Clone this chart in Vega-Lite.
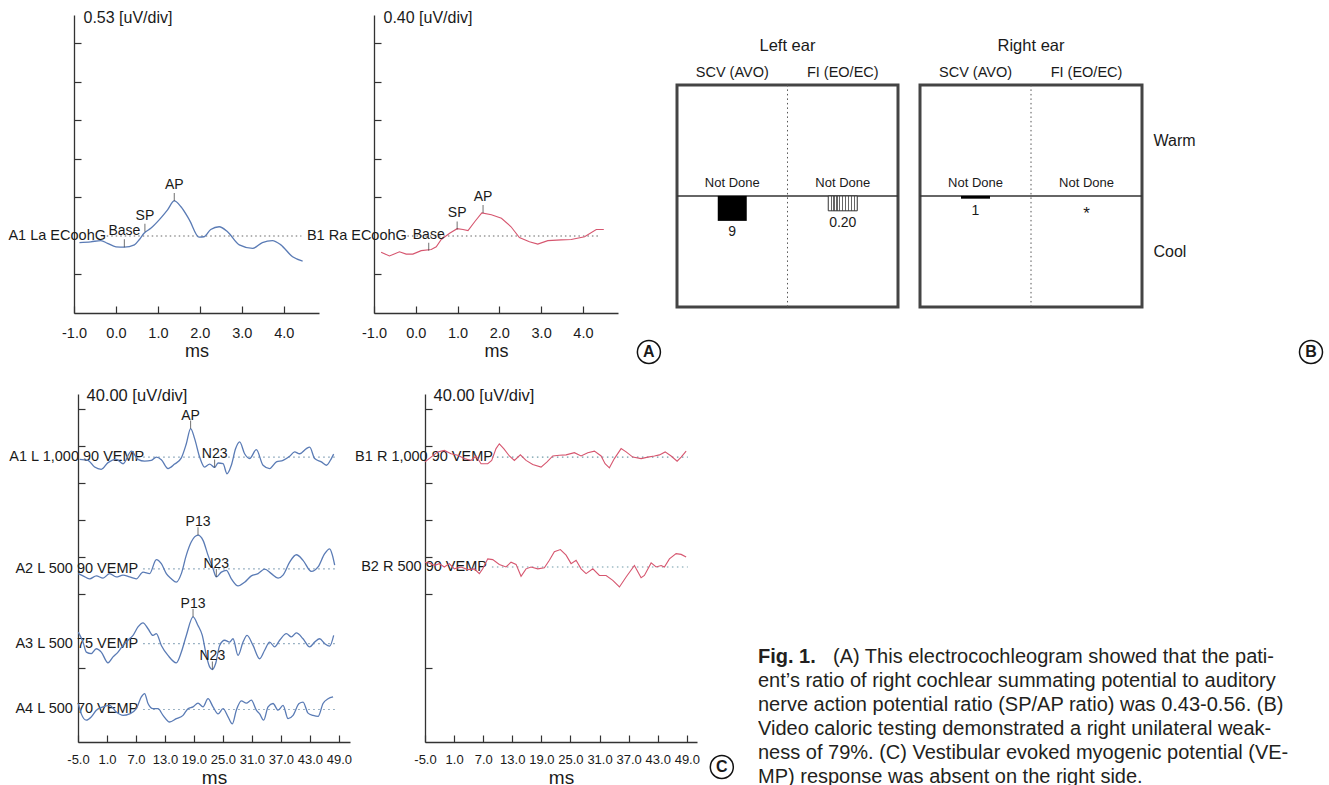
{
"$schema":"https://vega.github.io/schema/vega-lite/v6.json",
"background":"white",
"padding":{"left":8,"top":9,"right":0,"bottom":0},
"config":{"view":{"stroke":null},"font":"Liberation Sans","axis":{"grid":false,"domainColor":"#333","tickColor":"#333","domainWidth":1.3,"tickWidth":1.2,"labelColor":"#1a1a1a","titleColor":"#1a1a1a","titleFontWeight":"normal","labelFont":"Liberation Sans","titleFont":"Liberation Sans"},"text":{"color":"#1a1a1a","font":"Liberation Sans"}},
"datasets":{
"tags":[{"tag":"A"},{"tag":"B"},{"tag":"C"}],
"ecogInfo":[{"p":"L","name":"A1 La ECoohG","base":2},{"p":"R","name":"B1 Ra ECoohG","base":2}],
"ecogMarks":[{"p":"L","name":"Base","ms":0.2,"div":1.71},{"p":"L","name":"SP","ms":0.69,"div":2.11},{"p":"L","name":"AP","ms":1.39,"div":2.91},{"p":"R","name":"Base","ms":0.31,"div":1.62},{"p":"R","name":"SP","ms":0.99,"div":2.17},{"p":"R","name":"AP","ms":1.61,"div":2.6}],
"ecog":[
{"p":"L","ms":-0.87,"div":1.83},{"p":"L","ms":-0.6,"div":1.85},{"p":"L","ms":-0.36,"div":1.88},{"p":"L","ms":-0.2,"div":1.81},{"p":"L","ms":0.0,"div":1.72},{"p":"L","ms":0.2,"div":1.71},{"p":"L","ms":0.44,"div":1.77},{"p":"L","ms":0.56,"div":1.91},{"p":"L","ms":0.67,"div":2.07},{"p":"L","ms":0.83,"div":2.2},{"p":"L","ms":1.03,"div":2.42},{"p":"L","ms":1.23,"div":2.68},{"p":"L","ms":1.39,"div":2.91},{"p":"L","ms":1.55,"div":2.76},{"p":"L","ms":1.75,"div":2.42},{"p":"L","ms":1.98,"div":1.97},{"p":"L","ms":2.1,"div":1.98},{"p":"L","ms":2.26,"div":2.17},{"p":"L","ms":2.46,"div":2.24},{"p":"L","ms":2.66,"div":2.11},{"p":"L","ms":2.94,"div":1.77},{"p":"L","ms":3.26,"div":1.68},{"p":"L","ms":3.49,"div":1.83},{"p":"L","ms":3.73,"div":1.88},{"p":"L","ms":3.93,"div":1.77},{"p":"L","ms":4.21,"div":1.46},{"p":"L","ms":4.45,"div":1.35},
{"p":"R","ms":-0.83,"div":1.58},{"p":"R","ms":-0.63,"div":1.48},{"p":"R","ms":-0.39,"div":1.59},{"p":"R","ms":-0.23,"div":1.53},{"p":"R","ms":-0.07,"div":1.53},{"p":"R","ms":0.13,"div":1.62},{"p":"R","ms":0.37,"div":1.65},{"p":"R","ms":0.49,"div":1.72},{"p":"R","ms":0.61,"div":1.91},{"p":"R","ms":0.81,"div":2.07},{"p":"R","ms":0.99,"div":2.19},{"p":"R","ms":1.13,"div":2.17},{"p":"R","ms":1.25,"div":2.14},{"p":"R","ms":1.41,"div":2.37},{"p":"R","ms":1.58,"div":2.6},{"p":"R","ms":1.81,"div":2.55},{"p":"R","ms":2.05,"div":2.46},{"p":"R","ms":2.28,"div":2.24},{"p":"R","ms":2.48,"div":1.96},{"p":"R","ms":2.72,"div":1.85},{"p":"R","ms":2.92,"div":1.79},{"p":"R","ms":3.16,"div":1.88},{"p":"R","ms":3.48,"div":1.9},{"p":"R","ms":3.72,"div":1.91},{"p":"R","ms":4.04,"div":1.98},{"p":"R","ms":4.32,"div":2.17},{"p":"R","ms":4.5,"div":2.17}],
"vempInfo":[{"p":"L","name":"A1 L 1,000 90 VEMP","base":7.7},{"p":"L","name":"A2 L 500 90 VEMP","base":4.68},{"p":"L","name":"A3 L 500 75 VEMP","base":2.66},{"p":"L","name":"A4 L 500 70 VEMP","base":0.88},{"p":"R","name":"B1 R 1,000 90 VEMP","base":7.7},{"p":"R","name":"B2 R 500 90 VEMP","base":4.73}],
"vempMarks":[{"p":"L","name":"AP","ms":18.31,"div":8.47},{"p":"L","name":"N23","ms":23.28,"div":7.42},{"p":"L","name":"P13","ms":19.84,"div":5.59},{"p":"L","name":"N23","ms":23.63,"div":4.46},{"p":"L","name":"P13","ms":18.81,"div":3.38},{"p":"L","name":"N23","ms":22.81,"div":1.96}],
"vemp":[
{"p":"L","tr":"A1","ms":-4.67,"div":7.64},{"p":"L","tr":"A1","ms":-2.93,"div":7.61},{"p":"L","tr":"A1","ms":-1.56,"div":7.43},{"p":"L","tr":"A1","ms":-0.18,"div":7.37},{"p":"L","tr":"A1","ms":1.21,"div":7.55},{"p":"L","tr":"A1","ms":2.93,"div":7.64},{"p":"L","tr":"A1","ms":4.32,"div":7.52},{"p":"L","tr":"A1","ms":6.04,"div":7.86},{"p":"L","tr":"A1","ms":7.42,"div":7.64},{"p":"L","tr":"A1","ms":8.79,"div":7.59},{"p":"L","tr":"A1","ms":10.18,"div":7.61},{"p":"L","tr":"A1","ms":11.21,"div":7.7},{"p":"L","tr":"A1","ms":12.25,"div":7.63},{"p":"L","tr":"A1","ms":13.63,"div":7.39},{"p":"L","tr":"A1","ms":15.0,"div":7.51},{"p":"L","tr":"A1","ms":16.39,"div":7.68},{"p":"L","tr":"A1","ms":17.42,"div":8.06},{"p":"L","tr":"A1","ms":18.31,"div":8.47},{"p":"L","tr":"A1","ms":19.14,"div":8.2},{"p":"L","tr":"A1","ms":20.18,"div":7.7},{"p":"L","tr":"A1","ms":21.21,"div":7.43},{"p":"L","tr":"A1","ms":22.25,"div":7.51},{"p":"L","tr":"A1","ms":23.28,"div":7.42},{"p":"L","tr":"A1","ms":23.99,"div":7.54},{"p":"L","tr":"A1","ms":25.02,"div":7.52},{"p":"L","tr":"A1","ms":25.85,"div":7.25},{"p":"L","tr":"A1","ms":26.74,"div":7.48},{"p":"L","tr":"A1","ms":27.63,"div":7.93},{"p":"L","tr":"A1","ms":28.46,"div":8.11},{"p":"L","tr":"A1","ms":29.49,"div":7.79},{"p":"L","tr":"A1","ms":30.53,"div":7.66},{"p":"L","tr":"A1","ms":31.91,"div":7.9},{"p":"L","tr":"A1","ms":33.3,"div":7.48},{"p":"L","tr":"A1","ms":34.67,"div":7.39},{"p":"L","tr":"A1","ms":36.06,"div":7.57},{"p":"L","tr":"A1","ms":37.44,"div":7.61},{"p":"L","tr":"A1","ms":38.81,"div":7.72},{"p":"L","tr":"A1","ms":39.84,"div":7.84},{"p":"L","tr":"A1","ms":40.88,"div":7.79},{"p":"L","tr":"A1","ms":42.27,"div":7.93},{"p":"L","tr":"A1","ms":42.95,"div":7.97},{"p":"L","tr":"A1","ms":43.99,"div":7.66},{"p":"L","tr":"A1","ms":45.37,"div":7.57},{"p":"L","tr":"A1","ms":46.41,"div":7.48},{"p":"L","tr":"A1","ms":47.44,"div":7.66},{"p":"L","tr":"A1","ms":47.92,"div":7.78},
{"p":"L","tr":"A2","ms":-4.94,"div":4.55},{"p":"L","tr":"A2","ms":-3.96,"div":4.49},{"p":"L","tr":"A2","ms":-2.6,"div":4.41},{"p":"L","tr":"A2","ms":-1.21,"div":4.49},{"p":"L","tr":"A2","ms":0.18,"div":4.43},{"p":"L","tr":"A2","ms":1.54,"div":4.55},{"p":"L","tr":"A2","ms":2.93,"div":4.46},{"p":"L","tr":"A2","ms":4.32,"div":4.51},{"p":"L","tr":"A2","ms":5.68,"div":4.46},{"p":"L","tr":"A2","ms":7.07,"div":4.41},{"p":"L","tr":"A2","ms":8.46,"div":4.59},{"p":"L","tr":"A2","ms":9.82,"div":4.55},{"p":"L","tr":"A2","ms":11.21,"div":4.93},{"p":"L","tr":"A2","ms":12.25,"div":4.82},{"p":"L","tr":"A2","ms":13.28,"div":4.55},{"p":"L","tr":"A2","ms":14.32,"div":4.41},{"p":"L","tr":"A2","ms":15.35,"div":4.32},{"p":"L","tr":"A2","ms":16.39,"div":4.55},{"p":"L","tr":"A2","ms":17.42,"div":5.05},{"p":"L","tr":"A2","ms":18.46,"div":5.41},{"p":"L","tr":"A2","ms":19.84,"div":5.59},{"p":"L","tr":"A2","ms":20.88,"div":5.45},{"p":"L","tr":"A2","ms":21.91,"div":5.05},{"p":"L","tr":"A2","ms":22.95,"div":4.68},{"p":"L","tr":"A2","ms":23.63,"div":4.46},{"p":"L","tr":"A2","ms":24.67,"div":4.59},{"p":"L","tr":"A2","ms":25.7,"div":4.64},{"p":"L","tr":"A2","ms":26.74,"div":4.41},{"p":"L","tr":"A2","ms":28.13,"div":4.22},{"p":"L","tr":"A2","ms":29.49,"div":4.32},{"p":"L","tr":"A2","ms":30.88,"div":4.49},{"p":"L","tr":"A2","ms":32.27,"div":4.55},{"p":"L","tr":"A2","ms":33.63,"div":4.67},{"p":"L","tr":"A2","ms":35.02,"div":4.55},{"p":"L","tr":"A2","ms":36.41,"div":4.43},{"p":"L","tr":"A2","ms":37.44,"div":4.51},{"p":"L","tr":"A2","ms":38.81,"div":4.86},{"p":"L","tr":"A2","ms":40.2,"div":5.06},{"p":"L","tr":"A2","ms":41.58,"div":4.91},{"p":"L","tr":"A2","ms":43.3,"div":4.61},{"p":"L","tr":"A2","ms":44.69,"div":4.73},{"p":"L","tr":"A2","ms":46.06,"div":5.09},{"p":"L","tr":"A2","ms":47.09,"div":5.22},{"p":"L","tr":"A2","ms":47.65,"div":5.05},{"p":"L","tr":"A2","ms":48.13,"div":4.78},
{"p":"L","tr":"A3","ms":-4.94,"div":2.97},{"p":"L","tr":"A3","ms":-3.96,"div":2.7},{"p":"L","tr":"A3","ms":-3.28,"div":2.43},{"p":"L","tr":"A3","ms":-2.25,"div":2.39},{"p":"L","tr":"A3","ms":-1.21,"div":2.52},{"p":"L","tr":"A3","ms":-0.18,"div":2.43},{"p":"L","tr":"A3","ms":1.21,"div":2.14},{"p":"L","tr":"A3","ms":2.25,"div":2.3},{"p":"L","tr":"A3","ms":3.28,"div":2.43},{"p":"L","tr":"A3","ms":4.32,"div":2.61},{"p":"L","tr":"A3","ms":5.35,"div":2.75},{"p":"L","tr":"A3","ms":6.39,"div":2.88},{"p":"L","tr":"A3","ms":7.42,"div":3.11},{"p":"L","tr":"A3","ms":8.46,"div":3.22},{"p":"L","tr":"A3","ms":9.49,"div":3.06},{"p":"L","tr":"A3","ms":10.53,"div":2.88},{"p":"L","tr":"A3","ms":11.21,"div":2.93},{"p":"L","tr":"A3","ms":12.25,"div":2.61},{"p":"L","tr":"A3","ms":13.63,"div":2.34},{"p":"L","tr":"A3","ms":15.35,"div":2.14},{"p":"L","tr":"A3","ms":16.39,"div":2.43},{"p":"L","tr":"A3","ms":17.42,"div":2.88},{"p":"L","tr":"A3","ms":18.81,"div":3.38},{"p":"L","tr":"A3","ms":19.84,"div":3.15},{"p":"L","tr":"A3","ms":20.73,"div":2.88},{"p":"L","tr":"A3","ms":21.56,"div":2.34},{"p":"L","tr":"A3","ms":22.25,"div":2.03},{"p":"L","tr":"A3","ms":22.81,"div":1.96},{"p":"L","tr":"A3","ms":23.49,"div":2.12},{"p":"L","tr":"A3","ms":24.32,"div":2.61},{"p":"L","tr":"A3","ms":25.35,"div":2.75},{"p":"L","tr":"A3","ms":26.39,"div":2.7},{"p":"L","tr":"A3","ms":27.09,"div":2.79},{"p":"L","tr":"A3","ms":28.13,"div":2.34},{"p":"L","tr":"A3","ms":29.16,"div":2.7},{"p":"L","tr":"A3","ms":29.99,"div":2.88},{"p":"L","tr":"A3","ms":31.23,"div":2.61},{"p":"L","tr":"A3","ms":32.6,"div":2.25},{"p":"L","tr":"A3","ms":33.63,"div":2.48},{"p":"L","tr":"A3","ms":34.67,"div":2.7},{"p":"L","tr":"A3","ms":35.7,"div":2.57},{"p":"L","tr":"A3","ms":36.74,"div":2.75},{"p":"L","tr":"A3","ms":38.13,"div":2.93},{"p":"L","tr":"A3","ms":39.16,"div":2.84},{"p":"L","tr":"A3","ms":40.2,"div":2.95},{"p":"L","tr":"A3","ms":41.58,"div":2.79},{"p":"L","tr":"A3","ms":42.95,"div":2.57},{"p":"L","tr":"A3","ms":43.99,"div":2.7},{"p":"L","tr":"A3","ms":45.02,"div":2.79},{"p":"L","tr":"A3","ms":46.06,"div":2.66},{"p":"L","tr":"A3","ms":47.09,"div":2.59},{"p":"L","tr":"A3","ms":47.92,"div":2.88},
{"p":"L","tr":"A4","ms":-4.94,"div":1.04},{"p":"L","tr":"A4","ms":-4.32,"div":0.76},{"p":"L","tr":"A4","ms":-3.28,"div":0.59},{"p":"L","tr":"A4","ms":-2.25,"div":0.68},{"p":"L","tr":"A4","ms":-1.21,"div":0.86},{"p":"L","tr":"A4","ms":0.18,"div":0.95},{"p":"L","tr":"A4","ms":1.54,"div":0.99},{"p":"L","tr":"A4","ms":2.93,"div":0.81},{"p":"L","tr":"A4","ms":4.32,"div":0.72},{"p":"L","tr":"A4","ms":5.68,"div":0.76},{"p":"L","tr":"A4","ms":7.07,"div":0.9},{"p":"L","tr":"A4","ms":8.11,"div":1.22},{"p":"L","tr":"A4","ms":8.79,"div":1.31},{"p":"L","tr":"A4","ms":9.49,"div":1.04},{"p":"L","tr":"A4","ms":10.53,"div":0.9},{"p":"L","tr":"A4","ms":11.56,"div":0.9},{"p":"L","tr":"A4","ms":12.6,"div":0.72},{"p":"L","tr":"A4","ms":13.96,"div":0.54},{"p":"L","tr":"A4","ms":15.35,"div":0.63},{"p":"L","tr":"A4","ms":16.74,"div":0.72},{"p":"L","tr":"A4","ms":17.77,"div":0.9},{"p":"L","tr":"A4","ms":18.81,"div":0.95},{"p":"L","tr":"A4","ms":19.84,"div":1.05},{"p":"L","tr":"A4","ms":20.88,"div":0.95},{"p":"L","tr":"A4","ms":21.91,"div":1.17},{"p":"L","tr":"A4","ms":22.95,"div":0.95},{"p":"L","tr":"A4","ms":23.99,"div":0.76},{"p":"L","tr":"A4","ms":25.02,"div":0.9},{"p":"L","tr":"A4","ms":26.06,"div":0.68},{"p":"L","tr":"A4","ms":26.95,"div":0.49},{"p":"L","tr":"A4","ms":27.77,"div":0.86},{"p":"L","tr":"A4","ms":28.81,"div":1.11},{"p":"L","tr":"A4","ms":29.84,"div":1.05},{"p":"L","tr":"A4","ms":30.88,"div":1.13},{"p":"L","tr":"A4","ms":31.91,"div":0.86},{"p":"L","tr":"A4","ms":32.6,"div":0.76},{"p":"L","tr":"A4","ms":33.43,"div":0.59},{"p":"L","tr":"A4","ms":34.34,"div":0.95},{"p":"L","tr":"A4","ms":35.37,"div":1.04},{"p":"L","tr":"A4","ms":36.41,"div":0.86},{"p":"L","tr":"A4","ms":37.44,"div":0.99},{"p":"L","tr":"A4","ms":38.48,"div":0.63},{"p":"L","tr":"A4","ms":39.51,"div":0.72},{"p":"L","tr":"A4","ms":40.76,"div":1.04},{"p":"L","tr":"A4","ms":41.58,"div":1.08},{"p":"L","tr":"A4","ms":42.62,"div":0.78},{"p":"L","tr":"A4","ms":43.65,"div":0.72},{"p":"L","tr":"A4","ms":44.69,"div":0.69},{"p":"L","tr":"A4","ms":45.72,"div":1.04},{"p":"L","tr":"A4","ms":46.76,"div":1.17},{"p":"L","tr":"A4","ms":47.8,"div":1.22},
{"p":"R","tr":"B1","ms":-5.0,"div":7.57},{"p":"R","tr":"B1","ms":-3.76,"div":7.7},{"p":"R","tr":"B1","ms":-2.38,"div":7.84},{"p":"R","tr":"B1","ms":-1.02,"div":7.88},{"p":"R","tr":"B1","ms":0.37,"div":7.79},{"p":"R","tr":"B1","ms":1.75,"div":7.75},{"p":"R","tr":"B1","ms":3.11,"div":7.66},{"p":"R","tr":"B1","ms":4.49,"div":7.61},{"p":"R","tr":"B1","ms":5.52,"div":7.73},{"p":"R","tr":"B1","ms":6.56,"div":7.52},{"p":"R","tr":"B1","ms":7.94,"div":7.52},{"p":"R","tr":"B1","ms":8.76,"div":7.61},{"p":"R","tr":"B1","ms":9.65,"div":7.93},{"p":"R","tr":"B1","ms":10.33,"div":8.06},{"p":"R","tr":"B1","ms":11.24,"div":7.93},{"p":"R","tr":"B1","ms":12.4,"div":7.73},{"p":"R","tr":"B1","ms":13.43,"div":7.61},{"p":"R","tr":"B1","ms":14.67,"div":7.76},{"p":"R","tr":"B1","ms":15.84,"div":7.61},{"p":"R","tr":"B1","ms":17.22,"div":7.5},{"p":"R","tr":"B1","ms":18.94,"div":7.43},{"p":"R","tr":"B1","ms":20.18,"div":7.57},{"p":"R","tr":"B1","ms":21.35,"div":7.73},{"p":"R","tr":"B1","ms":22.71,"div":7.75},{"p":"R","tr":"B1","ms":24.1,"div":7.76},{"p":"R","tr":"B1","ms":25.81,"div":7.82},{"p":"R","tr":"B1","ms":27.19,"div":7.73},{"p":"R","tr":"B1","ms":28.57,"div":7.82},{"p":"R","tr":"B1","ms":29.94,"div":7.86},{"p":"R","tr":"B1","ms":31.32,"div":7.73},{"p":"R","tr":"B1","ms":32.14,"div":7.52},{"p":"R","tr":"B1","ms":33.03,"div":7.41},{"p":"R","tr":"B1","ms":34.06,"div":7.66},{"p":"R","tr":"B1","ms":35.45,"div":7.93},{"p":"R","tr":"B1","ms":36.48,"div":7.84},{"p":"R","tr":"B1","ms":37.86,"div":7.7},{"p":"R","tr":"B1","ms":39.57,"div":7.66},{"p":"R","tr":"B1","ms":40.96,"div":7.7},{"p":"R","tr":"B1","ms":42.32,"div":7.73},{"p":"R","tr":"B1","ms":43.35,"div":7.76},{"p":"R","tr":"B1","ms":44.53,"div":7.84},{"p":"R","tr":"B1","ms":45.76,"div":7.73},{"p":"R","tr":"B1","ms":47.0,"div":7.59},{"p":"R","tr":"B1","ms":47.83,"div":7.7},{"p":"R","tr":"B1","ms":48.86,"div":7.86},
{"p":"R","tr":"B2","ms":-5.0,"div":4.86},{"p":"R","tr":"B2","ms":-4.11,"div":4.84},{"p":"R","tr":"B2","ms":-3.08,"div":4.77},{"p":"R","tr":"B2","ms":-2.05,"div":4.82},{"p":"R","tr":"B2","ms":-1.02,"div":4.73},{"p":"R","tr":"B2","ms":0.01,"div":4.82},{"p":"R","tr":"B2","ms":1.05,"div":4.68},{"p":"R","tr":"B2","ms":2.43,"div":4.73},{"p":"R","tr":"B2","ms":3.81,"div":4.66},{"p":"R","tr":"B2","ms":5.17,"div":4.68},{"p":"R","tr":"B2","ms":6.21,"div":4.55},{"p":"R","tr":"B2","ms":6.91,"div":4.68},{"p":"R","tr":"B2","ms":7.94,"div":4.95},{"p":"R","tr":"B2","ms":8.97,"div":4.93},{"p":"R","tr":"B2","ms":10.33,"div":4.8},{"p":"R","tr":"B2","ms":11.71,"div":4.73},{"p":"R","tr":"B2","ms":12.75,"div":4.86},{"p":"R","tr":"B2","ms":13.78,"div":4.8},{"p":"R","tr":"B2","ms":14.81,"div":4.48},{"p":"R","tr":"B2","ms":15.84,"div":4.68},{"p":"R","tr":"B2","ms":16.87,"div":4.73},{"p":"R","tr":"B2","ms":18.26,"div":4.68},{"p":"R","tr":"B2","ms":19.62,"div":4.71},{"p":"R","tr":"B2","ms":20.65,"div":4.91},{"p":"R","tr":"B2","ms":21.68,"div":5.14},{"p":"R","tr":"B2","ms":22.92,"div":5.2},{"p":"R","tr":"B2","ms":24.1,"div":5.05},{"p":"R","tr":"B2","ms":25.13,"div":4.82},{"p":"R","tr":"B2","ms":26.16,"div":4.91},{"p":"R","tr":"B2","ms":27.19,"div":4.68},{"p":"R","tr":"B2","ms":28.22,"div":4.55},{"p":"R","tr":"B2","ms":29.61,"div":4.68},{"p":"R","tr":"B2","ms":30.97,"div":4.5},{"p":"R","tr":"B2","ms":32.35,"div":4.5},{"p":"R","tr":"B2","ms":33.73,"div":4.37},{"p":"R","tr":"B2","ms":35.1,"div":4.19},{"p":"R","tr":"B2","ms":36.48,"div":4.46},{"p":"R","tr":"B2","ms":38.19,"div":4.77},{"p":"R","tr":"B2","ms":39.57,"div":4.44},{"p":"R","tr":"B2","ms":40.25,"div":4.5},{"p":"R","tr":"B2","ms":41.64,"div":4.84},{"p":"R","tr":"B2","ms":42.67,"div":4.73},{"p":"R","tr":"B2","ms":43.7,"div":4.77},{"p":"R","tr":"B2","ms":44.38,"div":4.73},{"p":"R","tr":"B2","ms":45.41,"div":4.95},{"p":"R","tr":"B2","ms":46.79,"div":5.09},{"p":"R","tr":"B2","ms":47.83,"div":5.07},{"p":"R","tr":"B2","ms":48.86,"div":5.0}],
"caloric":[{"ear":"Left ear","test":"SCV (AVO)","warm":"Not Done","cool":9,"flag":null},{"ear":"Left ear","test":"FI (EO/EC)","warm":"Not Done","cool":0.2,"flag":null},{"ear":"Right ear","test":"SCV (AVO)","warm":"Not Done","cool":1,"flag":null},{"ear":"Right ear","test":"FI (EO/EC)","warm":"Not Done","cool":null,"flag":"*"}],
"caption":[{"line":1,"part":"lead","text":"Fig. 1."},{"line":1,"part":"body","text":"(A) This electrocochleogram showed that the pati-"},{"line":2,"part":"body","text":"ent’s ratio of right cochlear summating potential to auditory"},{"line":3,"part":"body","text":"nerve action potential ratio (SP/AP ratio) was 0.43-0.56. (B)"},{"line":4,"part":"body","text":"Video caloric testing demonstrated a right unilateral weak-"},{"line":5,"part":"body","text":"ness of 79%. (C) Vestibular evoked myogenic potential (VE-"},{"line":6,"part":"body","text":"MP) response was absent on the right side."}],
"blank":[{"k":0}]
},
"bounds":"full",
"spacing":20,
"vconcat":[
{"bounds":"flush","spacing":0,"hconcat":[
{"width":245,"height":298,"layer":[
 {"data":{"name":"ecogInfo"},"transform":[{"filter":"datum.p === 'L'"}],"mark":{"type":"rule","color":"#666","strokeDash":[1.5,3],"strokeWidth":1.1},"encoding":{"x":{"datum":-0.22,"type":"quantitative","scale":{"domain":[-1,4.84],"nice":false,"zero":false},"axis":{"values":[-1,0,1,2,3,4],"tickCount":20,"labelExpr":"datum.value < 0 ? '-' + format(-datum.value, '.1f') : format(datum.value, '.1f')","tickSize":-7,"labelPadding":20,"labelFontSize":14.5,"labelFlush":false,"labelOverlap":false,"title":"ms","titleFontSize":18,"titlePadding":3}},"x2":{"datum":4.42},"y":{"field":"base","type":"quantitative","scale":{"domain":[0,7.74],"nice":false,"zero":false},"axis":{"values":[1,3,4,5,6,7],"tickCount":20,"labels":false,"tickSize":-7,"title":"0.53 [uV/div]","titleAngle":0,"titleAlign":"left","titleBaseline":"middle","titleX":9,"titleY":2,"titleFontSize":16}}}},
 {"data":{"name":"ecogInfo"},"transform":[{"filter":"datum.p === 'L'"}],"mark":{"type":"text","fontSize":14.5,"baseline":"middle"},"encoding":{"x":{"datum":-1.4,"type":"quantitative"},"y":{"field":"base","type":"quantitative"},"text":{"field":"name","type":"nominal"}}},
 {"data":{"name":"ecog"},"transform":[{"filter":"datum.p === 'L'"}],"mark":{"type":"line","color":"#5a7bb5","strokeWidth":1.3,"interpolate":"monotone"},"encoding":{"x":{"field":"ms","type":"quantitative"},"y":{"field":"div","type":"quantitative"}}},
 {"data":{"name":"ecogMarks"},"transform":[{"filter":"datum.p === 'L'"}],"mark":{"type":"tick","orient":"vertical","size":8,"thickness":1,"yOffset":-4,"color":"#333"},"encoding":{"x":{"field":"ms","type":"quantitative"},"y":{"field":"div","type":"quantitative"}}},
 {"data":{"name":"ecogMarks"},"transform":[{"filter":"datum.p === 'L'"}],"mark":{"type":"text","fontSize":14,"dy":-16,"baseline":"middle"},"encoding":{"x":{"field":"ms","type":"quantitative"},"y":{"field":"div","type":"quantitative"},"text":{"field":"name","type":"nominal"}}}
]},
{"width":55,"height":298,"data":{"name":"blank"},"mark":{"type":"point","opacity":0},"encoding":{}},
{"width":244,"height":298,"layer":[
 {"data":{"name":"ecogInfo"},"transform":[{"filter":"datum.p === 'R'"}],"mark":{"type":"rule","color":"#666","strokeDash":[1.5,3],"strokeWidth":1.1},"encoding":{"x":{"datum":-0.2,"type":"quantitative","scale":{"domain":[-1,4.84],"nice":false,"zero":false},"axis":{"values":[-1,0,1,2,3,4],"tickCount":20,"labelExpr":"datum.value < 0 ? '-' + format(-datum.value, '.1f') : format(datum.value, '.1f')","tickSize":-7,"labelPadding":20,"labelFontSize":14.5,"labelFlush":false,"labelOverlap":false,"title":"ms","titleFontSize":18,"titlePadding":3}},"x2":{"datum":4.39},"y":{"field":"base","type":"quantitative","scale":{"domain":[0,7.74],"nice":false,"zero":false},"axis":{"values":[1,3,4,5,6,7],"tickCount":20,"labels":false,"tickSize":-7,"title":"0.40 [uV/div]","titleAngle":0,"titleAlign":"left","titleBaseline":"middle","titleX":9,"titleY":2,"titleFontSize":16}}}},
 {"data":{"name":"ecogInfo"},"transform":[{"filter":"datum.p === 'R'"}],"mark":{"type":"text","fontSize":14.5,"baseline":"middle"},"encoding":{"x":{"datum":-1.41,"type":"quantitative"},"y":{"field":"base","type":"quantitative"},"text":{"field":"name","type":"nominal"}}},
 {"data":{"name":"ecog"},"transform":[{"filter":"datum.p === 'R'"}],"mark":{"type":"line","color":"#d6566f","strokeWidth":1.1},"encoding":{"x":{"field":"ms","type":"quantitative"},"y":{"field":"div","type":"quantitative"}}},
 {"data":{"name":"ecogMarks"},"transform":[{"filter":"datum.p === 'R'"}],"mark":{"type":"tick","orient":"vertical","size":8,"thickness":1,"yOffset":-4,"color":"#333"},"encoding":{"x":{"field":"ms","type":"quantitative"},"y":{"field":"div","type":"quantitative"}}},
 {"data":{"name":"ecogMarks"},"transform":[{"filter":"datum.p === 'R'"}],"mark":{"type":"text","fontSize":14,"dy":-16,"baseline":"middle"},"encoding":{"x":{"field":"ms","type":"quantitative"},"y":{"field":"div","type":"quantitative"},"text":{"field":"name","type":"nominal"}}},
 {"data":{"name":"tags"},"transform":[{"filter":"datum.tag === 'A'"}],"mark":{"type":"point","shape":"circle","size":530,"filled":true,"fill":"#fff","stroke":"#111","strokeWidth":1.5,"opacity":1,"xOffset":66,"yOffset":39},"encoding":{"x":{"datum":4,"type":"quantitative"},"y":{"datum":0,"type":"quantitative"}}},
 {"data":{"name":"tags"},"transform":[{"filter":"datum.tag === 'A'"}],"mark":{"type":"text","fontSize":16,"fontWeight":"bold","baseline":"middle","xOffset":66,"yOffset":39},"encoding":{"x":{"datum":4,"type":"quantitative"},"y":{"datum":0,"type":"quantitative"},"text":{"field":"tag","type":"nominal"}}}
]},
{"width":59,"height":298,"data":{"name":"blank"},"mark":{"type":"point","opacity":0},"encoding":{}},
{"width":221,"height":298,"data":{"name":"caloric"},"transform":[{"filter":"datum.ear === 'Left ear'"}],"resolve":{"scale":{"y":"independent"}},"layer":[
  {"mark":{"type":"rect","filled":false,"stroke":"#444","strokeWidth":3},"transform":[{"filter":"datum.test === 'SCV (AVO)'"}],"encoding":{"y":{"datum":-40,"type":"quantitative","scale":{"domain":[-65.2,42.2],"reverse":true,"nice":false,"zero":false},"axis":null},"y2":{"datum":40}}},
  {"mark":{"type":"rule","color":"#333","strokeWidth":1.5},"transform":[{"filter":"datum.test === 'SCV (AVO)'"}],"encoding":{"y":{"datum":0,"type":"quantitative","scale":{"domain":[-65.2,42.2],"reverse":true,"nice":false,"zero":false},"axis":null}}},
  {"mark":{"type":"rule","color":"#555","strokeDash":[1.5,3],"strokeWidth":1,"xOffset":-55.25},"transform":[{"filter":"datum.test === 'FI (EO/EC)'"}],"encoding":{"x":{"field":"test","type":"nominal","scale":{"type":"band","domain":["SCV (AVO)","FI (EO/EC)"],"paddingInner":0,"paddingOuter":0},"axis":null},"y":{"datum":-40,"type":"quantitative","scale":{"domain":[-65.2,42.2],"reverse":true,"nice":false,"zero":false},"axis":null},"y2":{"datum":40}}},
  {"mark":{"type":"text","fontSize":16.5,"dy":-39,"baseline":"middle","xOffset":-55.25},"transform":[{"filter":"datum.test === 'FI (EO/EC)'"}],"encoding":{"x":{"field":"test","type":"nominal"},"y":{"datum":-40,"type":"quantitative","scale":{"domain":[-65.2,42.2],"reverse":true,"nice":false,"zero":false},"axis":null},"text":{"field":"ear","type":"nominal"}}},
  {"mark":{"type":"text","fontSize":14.5,"dy":-12.3,"baseline":"middle"},"encoding":{"x":{"field":"test","type":"nominal"},"y":{"datum":-40,"type":"quantitative","scale":{"domain":[-65.2,42.2],"reverse":true,"nice":false,"zero":false},"axis":null},"text":{"field":"test","type":"nominal"}}},
  {"mark":{"type":"text","fontSize":13,"dy":-13.3,"baseline":"middle"},"encoding":{"x":{"field":"test","type":"nominal"},"y":{"datum":0,"type":"quantitative","scale":{"domain":[-65.2,42.2],"reverse":true,"nice":false,"zero":false},"axis":null},"text":{"field":"warm","type":"nominal"}}},
  {"transform":[{"filter":"datum.test === 'SCV (AVO)' && isValid(datum.cool)"}],"mark":{"type":"bar","width":29,"color":"#000"},"encoding":{"x":{"field":"test","type":"nominal"},"y":{"field":"cool","type":"quantitative","scale":{"domain":[-65.2,42.2],"reverse":true,"nice":false,"zero":false},"axis":null},"y2":{"datum":0}}},
  {"transform":[{"filter":"datum.test === 'SCV (AVO)' && isValid(datum.cool)"}],"mark":{"type":"text","fontSize":14,"dy":11,"baseline":"middle"},"encoding":{"x":{"field":"test","type":"nominal"},"y":{"field":"cool","type":"quantitative","scale":{"domain":[-65.2,42.2],"reverse":true,"nice":false,"zero":false},"axis":null},"text":{"field":"cool","type":"quantitative","format":"d"}}},
  {"transform":[{"filter":"datum.test === 'FI (EO/EC)' && isValid(datum.cool)"}],"mark":{"type":"bar","width":29,"fill":{"gradient":"linear","x1":0,"y1":0,"x2":1,"y2":0,"stops":[{"offset":0,"color":"#fff"},{"offset":0.08,"color":"#fff"},{"offset":0.08,"color":"#666"},{"offset":0.12,"color":"#666"},{"offset":0.12,"color":"#fff"},{"offset":0.18,"color":"#fff"},{"offset":0.18,"color":"#666"},{"offset":0.22,"color":"#666"},{"offset":0.22,"color":"#fff"},{"offset":0.28,"color":"#fff"},{"offset":0.28,"color":"#666"},{"offset":0.32,"color":"#666"},{"offset":0.32,"color":"#fff"},{"offset":0.38,"color":"#fff"},{"offset":0.38,"color":"#666"},{"offset":0.42,"color":"#666"},{"offset":0.42,"color":"#fff"},{"offset":0.48,"color":"#fff"},{"offset":0.48,"color":"#666"},{"offset":0.52,"color":"#666"},{"offset":0.52,"color":"#fff"},{"offset":0.58,"color":"#fff"},{"offset":0.58,"color":"#666"},{"offset":0.62,"color":"#666"},{"offset":0.62,"color":"#fff"},{"offset":0.68,"color":"#fff"},{"offset":0.68,"color":"#666"},{"offset":0.72,"color":"#666"},{"offset":0.72,"color":"#fff"},{"offset":0.78,"color":"#fff"},{"offset":0.78,"color":"#666"},{"offset":0.82,"color":"#666"},{"offset":0.82,"color":"#fff"},{"offset":0.88,"color":"#fff"},{"offset":0.88,"color":"#666"},{"offset":0.92,"color":"#666"},{"offset":0.92,"color":"#fff"},{"offset":1,"color":"#fff"}]},"stroke":"#333","strokeWidth":1},"encoding":{"x":{"field":"test","type":"nominal"},"y":{"field":"cool","type":"quantitative","scale":{"domain":[-2.446,1.581],"reverse":true,"nice":false,"zero":false},"axis":null},"y2":{"datum":0}}},
  {"transform":[{"filter":"datum.test === 'FI (EO/EC)' && isValid(datum.cool)"}],"mark":{"type":"text","fontSize":14,"dy":11.7,"baseline":"middle"},"encoding":{"x":{"field":"test","type":"nominal"},"y":{"field":"cool","type":"quantitative","scale":{"domain":[-2.446,1.581],"reverse":true,"nice":false,"zero":false},"axis":null},"text":{"field":"cool","type":"quantitative","format":".2f"}}}
]},
{"width":22,"height":298,"data":{"name":"blank"},"mark":{"type":"point","opacity":0},"encoding":{}},
{"width":222,"height":298,"data":{"name":"caloric"},"transform":[{"filter":"datum.ear === 'Right ear'"}],"resolve":{"scale":{"y":"independent"}},"layer":[
  {"mark":{"type":"rect","filled":false,"stroke":"#444","strokeWidth":3},"transform":[{"filter":"datum.test === 'SCV (AVO)'"}],"encoding":{"y":{"datum":-40,"type":"quantitative","scale":{"domain":[-65.2,42.2],"reverse":true,"nice":false,"zero":false},"axis":{"orient":"right","values":[-20,20],"labelExpr":"datum.value < 0 ? 'Warm' : 'Cool'","domain":false,"ticks":false,"grid":false,"title":null,"labelFontSize":16,"labelPadding":11,"labelColor":"#1a1a1a"}},"y2":{"datum":40}}},
  {"mark":{"type":"rule","color":"#333","strokeWidth":1.5},"transform":[{"filter":"datum.test === 'SCV (AVO)'"}],"encoding":{"y":{"datum":0,"type":"quantitative","scale":{"domain":[-65.2,42.2],"reverse":true,"nice":false,"zero":false},"axis":null}}},
  {"mark":{"type":"rule","color":"#555","strokeDash":[1.5,3],"strokeWidth":1,"xOffset":-55.5},"transform":[{"filter":"datum.test === 'FI (EO/EC)'"}],"encoding":{"x":{"field":"test","type":"nominal","scale":{"type":"band","domain":["SCV (AVO)","FI (EO/EC)"],"paddingInner":0,"paddingOuter":0},"axis":null},"y":{"datum":-40,"type":"quantitative","scale":{"domain":[-65.2,42.2],"reverse":true,"nice":false,"zero":false},"axis":null},"y2":{"datum":40}}},
  {"mark":{"type":"text","fontSize":16.5,"dy":-39,"baseline":"middle","xOffset":-55.5},"transform":[{"filter":"datum.test === 'FI (EO/EC)'"}],"encoding":{"x":{"field":"test","type":"nominal"},"y":{"datum":-40,"type":"quantitative","scale":{"domain":[-65.2,42.2],"reverse":true,"nice":false,"zero":false},"axis":null},"text":{"field":"ear","type":"nominal"}}},
  {"mark":{"type":"text","fontSize":14.5,"dy":-12.3,"baseline":"middle"},"encoding":{"x":{"field":"test","type":"nominal"},"y":{"datum":-40,"type":"quantitative","scale":{"domain":[-65.2,42.2],"reverse":true,"nice":false,"zero":false},"axis":null},"text":{"field":"test","type":"nominal"}}},
  {"mark":{"type":"text","fontSize":13,"dy":-13.3,"baseline":"middle"},"encoding":{"x":{"field":"test","type":"nominal"},"y":{"datum":0,"type":"quantitative","scale":{"domain":[-65.2,42.2],"reverse":true,"nice":false,"zero":false},"axis":null},"text":{"field":"warm","type":"nominal"}}},
  {"transform":[{"filter":"datum.test === 'SCV (AVO)' && isValid(datum.cool)"}],"mark":{"type":"bar","width":29,"color":"#000"},"encoding":{"x":{"field":"test","type":"nominal"},"y":{"field":"cool","type":"quantitative","scale":{"domain":[-65.2,42.2],"reverse":true,"nice":false,"zero":false},"axis":null},"y2":{"datum":0}}},
  {"transform":[{"filter":"datum.test === 'SCV (AVO)' && isValid(datum.cool)"}],"mark":{"type":"text","fontSize":14,"dy":12.5,"baseline":"middle"},"encoding":{"x":{"field":"test","type":"nominal"},"y":{"field":"cool","type":"quantitative","scale":{"domain":[-65.2,42.2],"reverse":true,"nice":false,"zero":false},"axis":null},"text":{"field":"cool","type":"quantitative","format":"d"}}},
  {"transform":[{"filter":"isValid(datum.flag)"}],"mark":{"type":"text","fontSize":17,"dy":18,"baseline":"middle"},"encoding":{"x":{"field":"test","type":"nominal"},"y":{"datum":0,"type":"quantitative","scale":{"domain":[-65.2,42.2],"reverse":true,"nice":false,"zero":false},"axis":null},"text":{"field":"flag","type":"nominal"}}},
  {"transform":[{"filter":"datum.test === 'FI (EO/EC)'"}],"mark":{"type":"point","shape":"circle","size":530,"filled":true,"fill":"#fff","stroke":"#111","strokeWidth":1.5,"opacity":1,"xOffset":224.5,"yOffset":39},"encoding":{"x":{"field":"test","type":"nominal"},"y":{"datum":42.2,"type":"quantitative","scale":{"domain":[-65.2,42.2],"reverse":true,"nice":false,"zero":false},"axis":null}}},
  {"data":{"name":"tags"},"transform":[{"filter":"datum.tag === 'B'"}],"mark":{"type":"text","fontSize":16,"fontWeight":"bold","baseline":"middle","xOffset":224.5,"yOffset":39},"encoding":{"x":{"datum":"FI (EO/EC)","type":"nominal"},"y":{"datum":42.2,"type":"quantitative","scale":{"domain":[-65.2,42.2],"reverse":true,"nice":false,"zero":false},"axis":null},"text":{"field":"tag","type":"nominal"}}}
]}
]},
{"bounds":"flush","spacing":0,"hconcat":[
{"width":4,"height":10,"data":{"name":"blank"},"mark":{"type":"point","opacity":0},"encoding":{}},
{"width":272,"height":348,"layer":[
 {"data":{"name":"vempInfo"},"transform":[{"filter":"datum.p === 'L'"}],"mark":{"type":"rule","color":"#7d9bb3","strokeDash":[1.5,3.5],"strokeWidth":1.1},"encoding":{"x":{"datum":8.5,"type":"quantitative","scale":{"domain":[-5,51.3],"nice":false,"zero":false},"axis":{"values":[-5,1,7,13,19,25,31,37,43,49],"tickCount":20,"labelExpr":"datum.value < 0 ? '-' + format(-datum.value, '.1f') : format(datum.value, '.1f')","tickSize":-7,"labelPadding":18,"labelFontSize":13,"labelFlush":false,"labelOverlap":false,"title":"ms","titleFontSize":19,"titlePadding":2}},"x2":{"datum":48.5},"y":{"field":"base","type":"quantitative","scale":{"domain":[0,9.405],"nice":false,"zero":false},"axis":{"values":[2,4,5,6,7,8,9],"tickCount":20,"labels":false,"tickSize":-7,"title":"40.00 [uV/div]","titleAngle":0,"titleAlign":"left","titleBaseline":"middle","titleX":8,"titleY":1,"titleFontSize":16.5}}}},
 {"data":{"name":"vempInfo"},"transform":[{"filter":"datum.p === 'L'"}],"mark":{"type":"text","fontSize":14.5,"baseline":"middle"},"encoding":{"x":{"datum":-5.25,"type":"quantitative"},"y":{"field":"base","type":"quantitative"},"text":{"field":"name","type":"nominal"}}},
 {"data":{"name":"vemp"},"transform":[{"filter":"datum.p === 'L'"}],"mark":{"type":"line","color":"#5a7bb5","strokeWidth":1.3,"interpolate":"monotone"},"encoding":{"x":{"field":"ms","type":"quantitative"},"y":{"field":"div","type":"quantitative"},"detail":{"field":"tr","type":"nominal"}}},
 {"data":{"name":"vempMarks"},"transform":[{"filter":"datum.p === 'L'"}],"mark":{"type":"tick","orient":"vertical","size":8,"thickness":1,"yOffset":-4,"color":"#333"},"encoding":{"x":{"field":"ms","type":"quantitative"},"y":{"field":"div","type":"quantitative"}}},
 {"data":{"name":"vempMarks"},"transform":[{"filter":"datum.p === 'L'"}],"mark":{"type":"text","fontSize":14,"dy":-13,"baseline":"middle"},"encoding":{"x":{"field":"ms","type":"quantitative"},"y":{"field":"div","type":"quantitative"},"text":{"field":"name","type":"nominal"}}}
]},
{"width":75,"height":10,"data":{"name":"blank"},"mark":{"type":"point","opacity":0},"encoding":{}},
{"width":272,"height":348,"layer":[
 {"data":{"name":"vempInfo"},"transform":[{"filter":"datum.p === 'R'"}],"mark":{"type":"rule","color":"#6f9aa8","strokeDash":[1.5,3.5],"strokeWidth":1.1},"encoding":{"x":{"datum":8.8,"type":"quantitative","scale":{"domain":[-5,51.1],"nice":false,"zero":false},"axis":{"values":[-5,1,7,13,19,25,31,37,43,49],"tickCount":20,"labelExpr":"datum.value < 0 ? '-' + format(-datum.value, '.1f') : format(datum.value, '.1f')","tickSize":-7,"labelPadding":18,"labelFontSize":13,"labelFlush":false,"labelOverlap":false,"title":"ms","titleFontSize":19,"titlePadding":2}},"x2":{"datum":49.2},"y":{"field":"base","type":"quantitative","scale":{"domain":[0,9.405],"nice":false,"zero":false},"axis":{"values":[2,4,5,6,7,8,9],"tickCount":20,"labels":false,"tickSize":-7,"title":"40.00 [uV/div]","titleAngle":0,"titleAlign":"left","titleBaseline":"middle","titleX":8,"titleY":1,"titleFontSize":16.5}}}},
 {"data":{"name":"vempInfo"},"transform":[{"filter":"datum.p === 'R'"}],"mark":{"type":"text","fontSize":14.5,"baseline":"middle"},"encoding":{"x":{"datum":-5.2,"type":"quantitative"},"y":{"field":"base","type":"quantitative"},"text":{"field":"name","type":"nominal"}}},
 {"data":{"name":"vemp"},"transform":[{"filter":"datum.p === 'R'"}],"mark":{"type":"line","color":"#d6566f","strokeWidth":1.1},"encoding":{"x":{"field":"ms","type":"quantitative"},"y":{"field":"div","type":"quantitative"},"detail":{"field":"tr","type":"nominal"}}},
 {"data":{"name":"tags"},"transform":[{"filter":"datum.tag === 'C'"}],"mark":{"type":"point","shape":"circle","size":530,"filled":true,"fill":"#fff","stroke":"#111","strokeWidth":1.5,"opacity":1,"xOffset":35,"yOffset":25},"encoding":{"x":{"datum":49,"type":"quantitative"},"y":{"datum":0,"type":"quantitative"}}},
 {"data":{"name":"tags"},"transform":[{"filter":"datum.tag === 'C'"}],"mark":{"type":"text","fontSize":16,"fontWeight":"bold","baseline":"middle","xOffset":35,"yOffset":25},"encoding":{"x":{"datum":49,"type":"quantitative"},"y":{"datum":0,"type":"quantitative"},"text":{"field":"tag","type":"nominal"}}}
]},
{"width":61,"height":10,"data":{"name":"blank"},"mark":{"type":"point","opacity":0},"encoding":{}},
{"width":572,"height":393,"data":{"name":"caption"},"layer":[
 {"transform":[{"filter":"datum.part === 'lead'"}],"mark":{"type":"text","align":"left","baseline":"middle","fontSize":20,"fontWeight":"bold","color":"#231f20","clip":true},"encoding":{"x":{"datum":0,"type":"quantitative","scale":{"domain":[0,1]},"axis":null},"y":{"field":"line","type":"quantitative","scale":{"domain":[-9.955,6.415],"reverse":true,"nice":false,"zero":false},"axis":null},"text":{"field":"text","type":"nominal"}}},
 {"transform":[{"filter":"datum.part === 'body' && datum.line === 1"}],"mark":{"type":"text","align":"left","baseline":"middle","fontSize":20,"color":"#231f20","dx":75,"clip":true},"encoding":{"x":{"datum":0,"type":"quantitative"},"y":{"field":"line","type":"quantitative"},"text":{"field":"text","type":"nominal"}}},
 {"transform":[{"filter":"datum.part === 'body' && datum.line > 1"}],"mark":{"type":"text","align":"left","baseline":"middle","fontSize":20,"color":"#231f20","clip":true},"encoding":{"x":{"datum":0,"type":"quantitative"},"y":{"field":"line","type":"quantitative"},"text":{"field":"text","type":"nominal"}}}
]}
]}
]
}
